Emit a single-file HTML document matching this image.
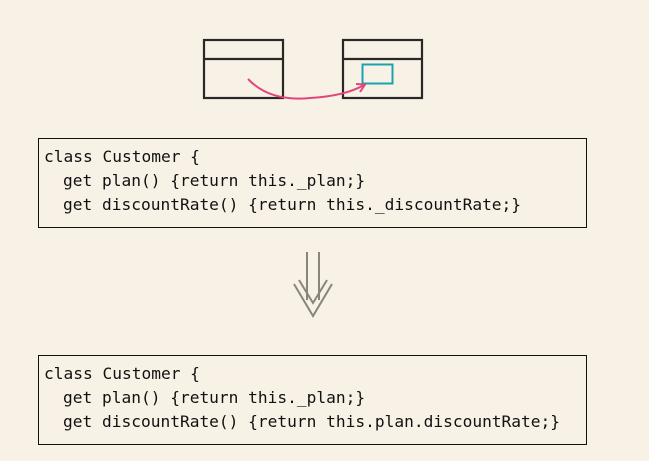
<!DOCTYPE html>
<html><head><meta charset="utf-8"><style>
html,body{margin:0;padding:0;background:#f8f1e6;width:649px;height:461px;overflow:hidden}
svg{display:block}
text{font-family:"DejaVu Sans Mono","Liberation Mono",monospace;font-size:16.2px;fill:#111;white-space:pre}
</style></head><body>
<svg width="649" height="461" viewBox="0 0 649 461">
<rect x="0" y="0" width="649" height="461" fill="#f8f1e6"/>
<g fill="none" stroke="#2a2826" stroke-width="2.2">
<rect x="204" y="40" width="79" height="58"/>
<line x1="204" y1="59" x2="283" y2="59"/>
<rect x="343" y="40" width="79" height="58"/>
<line x1="343" y1="59" x2="422" y2="59"/>
</g>
<rect x="362.5" y="64.5" width="30" height="19" fill="none" stroke="#1aa3ad" stroke-width="2"/>
<path d="M248 79 Q270 102 310 98 Q345 96 364 85" fill="none" stroke="#e0457b" stroke-width="2"/>
<path d="M356 84 L365 84.5 L360 92" fill="none" stroke="#e0457b" stroke-width="2"/>
<rect x="38.5" y="138.5" width="548" height="89" fill="none" stroke="#111" stroke-width="1"/>
<text x="44" y="162" xml:space="preserve">class Customer {</text>
<text x="63" y="186">get plan() {return this._plan;}</text>
<text x="63" y="210">get discountRate() {return this._discountRate;}</text>
<g fill="none" stroke="#8a857c" stroke-width="2">
<line x1="307" y1="252" x2="307" y2="300"/>
<line x1="319" y1="252" x2="319" y2="300"/>
<path d="M294 284 L313 316 L332 284"/>
<path d="M299 280 L313 303 L327 280"/>
</g>
<rect x="38.5" y="355.5" width="548" height="89" fill="none" stroke="#111" stroke-width="1"/>
<text x="44" y="379">class Customer {</text>
<text x="63" y="403">get plan() {return this._plan;}</text>
<text x="63" y="427">get discountRate() {return this.plan.discountRate;}</text>
</svg>
</body></html>
